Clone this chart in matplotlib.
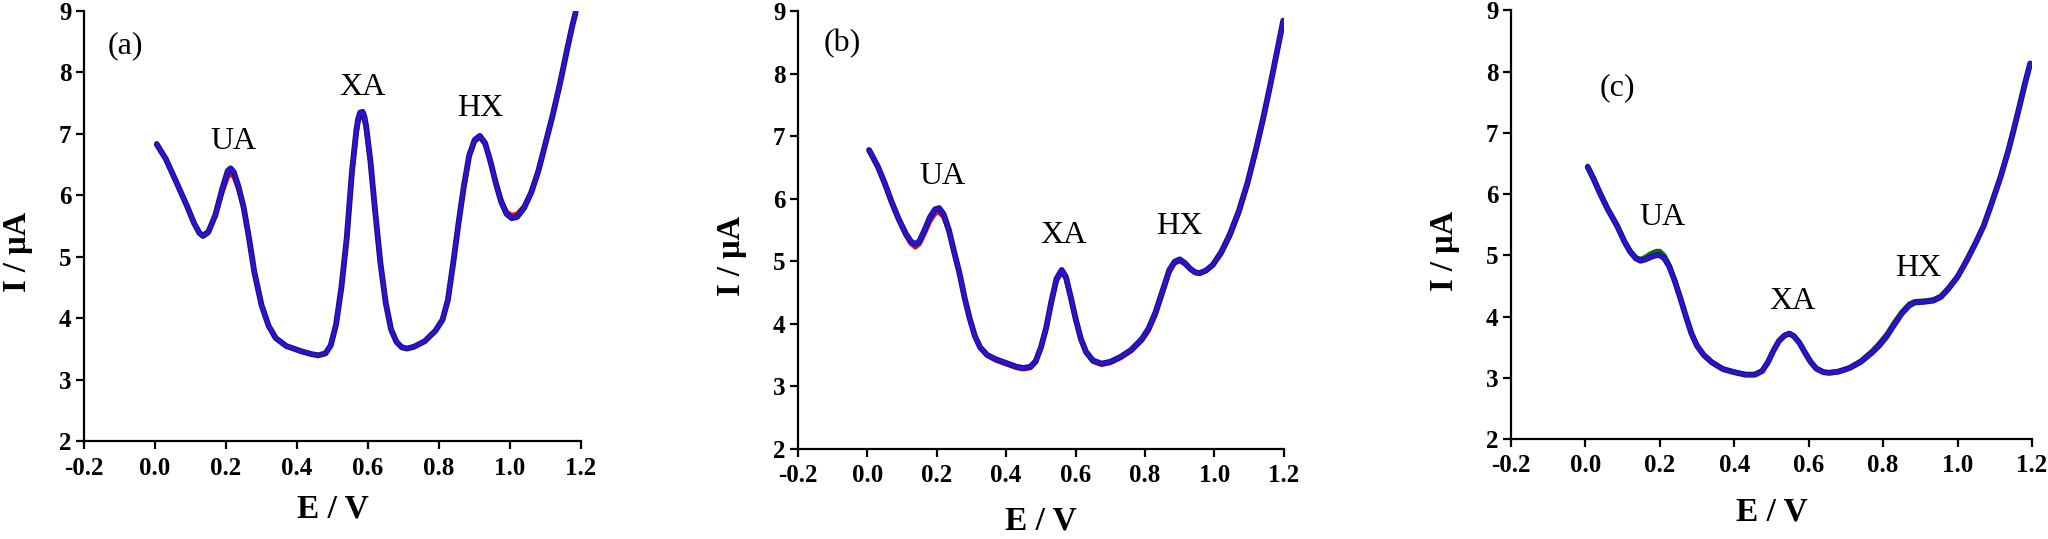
import matplotlib
matplotlib.use("Agg")
import matplotlib.pyplot as plt

# ---------------- data ----------------
E_a = [0.005, 0.03, 0.06, 0.09, 0.11, 0.125, 0.135, 0.15, 0.17, 0.19, 0.205, 0.213, 0.222, 0.235,
       0.25, 0.265, 0.28, 0.30, 0.32, 0.34, 0.37, 0.41, 0.44, 0.46, 0.48, 0.495, 0.51, 0.525, 0.54,
       0.555, 0.567, 0.572, 0.578, 0.585, 0.59, 0.595, 0.607, 0.62, 0.635, 0.65, 0.665, 0.68, 0.695,
       0.71, 0.73, 0.76, 0.79, 0.81, 0.825, 0.84, 0.855, 0.87, 0.885, 0.90, 0.915, 0.93, 0.945,
       0.96, 0.975, 0.99, 1.005, 1.02, 1.04, 1.06, 1.08, 1.10, 1.12, 1.14, 1.16, 1.175, 1.185]
I_a_blue = [6.83, 6.60, 6.22, 5.83, 5.55, 5.39, 5.34, 5.40, 5.68, 6.12, 6.40, 6.44, 6.38, 6.15,
            5.80, 5.30, 4.75, 4.22, 3.88, 3.68, 3.55, 3.47, 3.42, 3.40, 3.43, 3.56, 3.90, 4.50, 5.30,
            6.40, 7.05, 7.24, 7.35, 7.36, 7.28, 7.12, 6.55, 5.75, 4.90, 4.25, 3.82, 3.62, 3.53,
            3.51, 3.54, 3.63, 3.80, 3.98, 4.30, 4.90, 5.55, 6.15, 6.65, 6.90, 6.97, 6.85, 6.55,
            6.20, 5.90, 5.70, 5.63, 5.65, 5.80, 6.05, 6.40, 6.85, 7.30, 7.80, 8.35, 8.75, 8.98]
I_a_red = [6.85, 6.60, 6.22, 5.83, 5.55, 5.40, 5.36, 5.42, 5.66, 6.05, 6.30, 6.34, 6.30, 6.10,
           5.78, 5.30, 4.75, 4.22, 3.88, 3.68, 3.55, 3.47, 3.42, 3.40, 3.43, 3.56, 3.90, 4.50, 5.28,
           6.35, 6.98, 7.17, 7.27, 7.29, 7.22, 7.06, 6.52, 5.75, 4.90, 4.25, 3.82, 3.62, 3.53,
           3.51, 3.54, 3.63, 3.80, 3.98, 4.30, 4.90, 5.55, 6.12, 6.62, 6.87, 6.94, 6.83, 6.55,
           6.22, 5.93, 5.74, 5.68, 5.70, 5.83, 6.07, 6.41, 6.85, 7.30, 7.80, 8.35, 8.75, 8.98]

E_b = [0.005, 0.03, 0.05, 0.07, 0.09, 0.11, 0.125, 0.138, 0.15, 0.165, 0.18, 0.195, 0.207, 0.22,
       0.235, 0.25, 0.265, 0.28, 0.295, 0.31, 0.325, 0.345, 0.37, 0.40, 0.43, 0.45, 0.47, 0.485,
       0.50, 0.515, 0.53, 0.545, 0.56, 0.572, 0.585, 0.60, 0.615, 0.63, 0.65, 0.675, 0.70, 0.73,
       0.76, 0.79, 0.81, 0.83, 0.85, 0.87, 0.885, 0.90, 0.915, 0.93, 0.945, 0.958, 0.975, 0.995,
       1.02, 1.045, 1.07, 1.095, 1.12, 1.14, 1.16, 1.18, 1.198]
I_b_blue = [6.78, 6.52, 6.25, 5.95, 5.68, 5.45, 5.32, 5.27, 5.32, 5.50, 5.70, 5.83, 5.85, 5.75,
            5.50, 5.15, 4.82, 4.42, 4.08, 3.80, 3.62, 3.50, 3.43, 3.37, 3.31, 3.29, 3.31, 3.40,
            3.62, 3.93, 4.35, 4.72, 4.86, 4.75, 4.45, 4.08, 3.76, 3.55, 3.41, 3.36, 3.39, 3.47,
            3.58, 3.75, 3.92, 4.18, 4.52, 4.86, 4.99, 5.03, 4.97, 4.88, 4.82, 4.81, 4.85, 4.94,
            5.15, 5.44, 5.80, 6.25, 6.80, 7.28, 7.80, 8.35, 8.85]
I_b_red = [6.76, 6.50, 6.23, 5.93, 5.66, 5.42, 5.28, 5.22, 5.27, 5.44, 5.63, 5.76, 5.78, 5.70,
           5.47, 5.13, 4.81, 4.42, 4.08, 3.80, 3.62, 3.49, 3.41, 3.35, 3.29, 3.27, 3.29, 3.38,
           3.60, 3.91, 4.32, 4.68, 4.82, 4.72, 4.43, 4.06, 3.74, 3.53, 3.39, 3.34, 3.37, 3.45,
           3.56, 3.72, 3.88, 4.13, 4.47, 4.82, 4.96, 5.00, 4.95, 4.87, 4.81, 4.80, 4.84, 4.93,
           5.12, 5.40, 5.76, 6.22, 6.78, 7.26, 7.79, 8.34, 8.84]

E_c = [0.006, 0.02, 0.04, 0.06, 0.085, 0.105, 0.12, 0.135, 0.148, 0.16, 0.175, 0.19, 0.20, 0.212,
       0.225, 0.24, 0.255, 0.27, 0.285, 0.30, 0.318, 0.34, 0.37, 0.40, 0.43, 0.455, 0.475, 0.49,
       0.505, 0.52, 0.535, 0.548, 0.56, 0.575, 0.59, 0.605, 0.62, 0.64, 0.655, 0.68, 0.71, 0.74,
       0.77, 0.79, 0.81, 0.83, 0.85, 0.87, 0.885, 0.91, 0.935, 0.955, 0.975, 1.00, 1.025, 1.05,
       1.07, 1.09, 1.115, 1.135, 1.15, 1.165, 1.18, 1.195]
I_c_blue = [6.44, 6.27, 6.00, 5.75, 5.48, 5.22, 5.06, 4.95, 4.91, 4.93, 4.97, 5.00, 5.00, 4.95,
            4.82, 4.58, 4.30, 4.00, 3.72, 3.52, 3.37, 3.25, 3.14, 3.09, 3.05, 3.05, 3.11, 3.25,
            3.44, 3.60, 3.69, 3.72, 3.68, 3.57, 3.41, 3.26, 3.15, 3.09, 3.08, 3.10, 3.16, 3.26,
            3.41, 3.53, 3.68, 3.87, 4.05, 4.18, 4.23, 4.24, 4.26, 4.32, 4.45, 4.65, 4.92, 5.22,
            5.48, 5.82, 6.27, 6.68, 7.03, 7.40, 7.78, 8.13]
I_c_green = [6.46, 6.29, 6.02, 5.77, 5.50, 5.24, 5.08, 4.97, 4.94, 4.97, 5.03, 5.07, 5.07, 5.00,
             4.85, 4.60, 4.31, 4.01, 3.73, 3.53, 3.38, 3.26, 3.15, 3.10, 3.06, 3.06, 3.12, 3.26,
             3.45, 3.61, 3.70, 3.73, 3.69, 3.58, 3.42, 3.27, 3.16, 3.10, 3.09, 3.11, 3.17, 3.28,
             3.44, 3.57, 3.72, 3.91, 4.08, 4.21, 4.25, 4.26, 4.28, 4.34, 4.47, 4.66, 4.93, 5.23,
             5.49, 5.83, 6.28, 6.69, 7.04, 7.41, 7.79, 8.14]

panel_tags = ["(a)", "(b)", "(c)"]
peak_names = ["UA", "XA", "HX"]
tag_pos = [(-0.082, 8.44), (-0.072, 8.49), (0.085, 7.74)]
peak_pos = [[(0.22, 6.87), (0.585, 7.75), (0.915, 7.42)],
            [(0.216, 6.35), (0.565, 5.41), (0.90, 5.55)],
            [(0.208, 5.61), (0.555, 4.24), (0.894, 4.79)]]
x_ticks = [-0.2, 0.0, 0.2, 0.4, 0.6, 0.8, 1.0, 1.2]
y_ticks = [2, 3, 4, 5, 6, 7, 8, 9]
x_label = "E / V"
y_label = "I / μA"

# ---------------- figure ----------------
plt.rcParams['font.family'] = ['Liberation Serif', 'DejaVu Serif']
fig = plt.figure(figsize=(20.48, 5.39), dpi=100)

rects = [(0.0410, 0.1811, 0.2427, 0.7985),
         (0.3896, 0.1677, 0.2373, 0.8113),
         (0.7378, 0.1855, 0.2544, 0.7954)]

series = [
    (E_a, [(I_a_red, '#e01010'), (I_a_blue, None)]),
    (E_b, [(I_b_red, '#d01030'), (I_b_blue, None)]),
    (E_c, [(I_c_green, '#0a6a20'), (I_c_blue, None)]),
]
ylab_x = [-0.103, -0.105, -0.098]
xlab_y = [-0.122, -0.131, -0.133]

for i, (rect, (E, curves)) in enumerate(zip(rects, series)):
    ax = fig.add_axes(rect)
    for I, col in curves:
        if col is not None:
            ax.plot(E, I, color=col, lw=3.2, solid_joinstyle='round', solid_capstyle='round', zorder=2)
        else:
            ax.plot(E, I, color='#1a1470', lw=4.2, solid_joinstyle='round', solid_capstyle='round', zorder=3)
            ax.plot(E, I, color='#2a12d8', lw=2.6, solid_joinstyle='round', solid_capstyle='round', zorder=4)
    ax.set_xlim(-0.2, 1.2)
    ax.set_ylim(2, 9)
    ax.set_xticks(x_ticks)
    ax.set_xticklabels([f"{t:.1f}" for t in x_ticks])
    ax.set_yticks(y_ticks)
    ax.set_yticklabels([str(t) for t in y_ticks])
    for s in ['top', 'right']:
        ax.spines[s].set_visible(False)
    for s in ['left', 'bottom']:
        ax.spines[s].set_linewidth(1.6)
    ax.tick_params(axis='both', direction='out', length=6, width=1.6, labelsize=18)
    ax.tick_params(axis='x', pad=5)
    ax.tick_params(axis='y', pad=3)
    for lbl in ax.get_xticklabels() + ax.get_yticklabels():
        lbl.set_fontweight('bold')
    ax.set_xlabel(x_label, fontsize=24, fontweight='bold')
    ax.set_ylabel(y_label, fontsize=23.5, fontweight='bold')
    ax.xaxis.set_label_coords(0.5, xlab_y[i])
    ax.yaxis.set_label_coords(ylab_x[i], 0.44)
    ax.text(tag_pos[i][0], tag_pos[i][1], panel_tags[i], fontsize=23, ha='center', va='center')
    for name, (px, py) in zip(peak_names, peak_pos[i]):
        ax.text(px, py, name, fontsize=23, ha='center', va='center')
    ax.patch.set_alpha(0)

fig.savefig("out.png", dpi=100)
